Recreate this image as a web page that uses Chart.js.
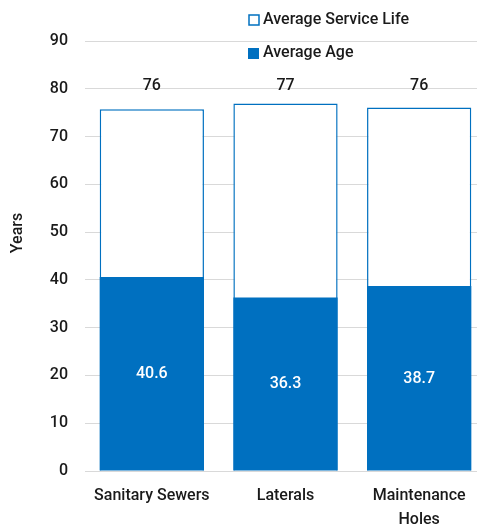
<!DOCTYPE html>
<html lang="en">
<head>
  <meta charset="UTF-8">
  <title>Average Age vs Service Life</title>
  <script src="https://cdn.jsdelivr.net/npm/chart.js@4.4.1/dist/chart.umd.min.js"></script>
  <style>
    html, body { margin: 0; padding: 0; background: #fff; overflow: hidden; }
    #wrap { width: 486px; height: 527px; }
  </style>
</head>
<body>
  <div id="wrap"><canvas id="chart"></canvas></div>

  <script>
    const categories = [['Sanitary Sewers'], ['Laterals'], ['Maintenance', 'Holes']];
    const serviceLife = [75.7, 76.9, 76.1];
    const serviceLifeLabels = ['76', '77', '76'];
    const averageAge = [40.6, 36.3, 38.7];
    const yTicks = [0, 10, 20, 30, 40, 50, 60, 70, 80, 90];

    const blue = '#0070C0';
    const font = "'Roboto', sans-serif";
    const txt = '#1a1a1a';

    // value labels, axis title and legend drawn on top of the chart
    const labelsPlugin = {
      id: 'labels',
      afterDatasetsDraw(chart) {
        const c = chart.ctx;
        const y = chart.scales.y;
        c.save();
        c.font = '500 16px ' + font;
        c.textAlign = 'center';
        c.textBaseline = 'middle';
        const ageMeta = chart.getDatasetMeta(1);
        ageMeta.data.forEach((bar, i) => {
          c.fillStyle = txt;
          c.fillText(serviceLifeLabels[i], bar.x, y.getPixelForValue(80.5));
          c.fillStyle = '#fff';
          c.fillText(averageAge[i].toFixed(1), bar.x, y.getPixelForValue(averageAge[i] / 2));
        });

        // y axis title
        c.save();
        c.translate(18, 233);
        c.rotate(-Math.PI / 2);
        c.fillStyle = txt;
        c.fillText('Years', 0, 0);
        c.restore();

        // legend
        c.textAlign = 'left';
        c.fillStyle = '#fff';
        c.fillRect(249, 15, 10, 10);
        c.strokeStyle = blue;
        c.lineWidth = 1.5;
        c.strokeRect(249, 15, 10, 10);
        c.fillStyle = blue;
        c.fillRect(248, 48, 11, 11);
        c.fillStyle = txt;
        c.fillText('Average Service Life', 263, 20);
        c.fillText('Average Age', 263, 53);
        c.restore();
      }
    };

    new Chart(document.getElementById('chart'), {
      type: 'bar',
      data: {
        labels: categories,
        datasets: [{
          label: 'Average Service Life',
          data: serviceLife,
          backgroundColor: '#fff',
          borderColor: blue,
          borderWidth: 1.5,
          order: 2
        }, {
          label: 'Average Age',
          data: averageAge,
          backgroundColor: blue,
          borderWidth: 0,
          order: 1
        }]
      },
      options: {
        responsive: true,
        maintainAspectRatio: false,
        animation: false,
        layout: { padding: { top: 41, left: 0, right: 0, bottom: 0 } },
        datasets: {
          bar: { barPercentage: 1, categoryPercentage: 0.78 }
        },
        scales: {
          x: {
            stacked: true,
            border: { display: false },
            grid: { display: false },
            ticks: { color: txt, font: { family: font, size: 16, weight: 500, lineHeight: 1.5 }, padding: 5, maxRotation: 0 },
            afterFit(s) { s.height = 56; }
          },
          y: {
            min: 0,
            max: 90,
            border: { display: false },
            grid: { color: '#d9d9d9', drawTicks: false },
            afterBuildTicks(s) { s.ticks = yTicks.map(v => ({ value: v })); },
            ticks: { color: txt, font: { family: font, size: 16, weight: 500 }, padding: 17 },
            afterFit(s) { s.width = 85; }
          }
        },
        plugins: {
          legend: { display: false },
          tooltip: { enabled: false }
        }
      },
      plugins: [labelsPlugin]
    });
  </script>
</body>
</html>
